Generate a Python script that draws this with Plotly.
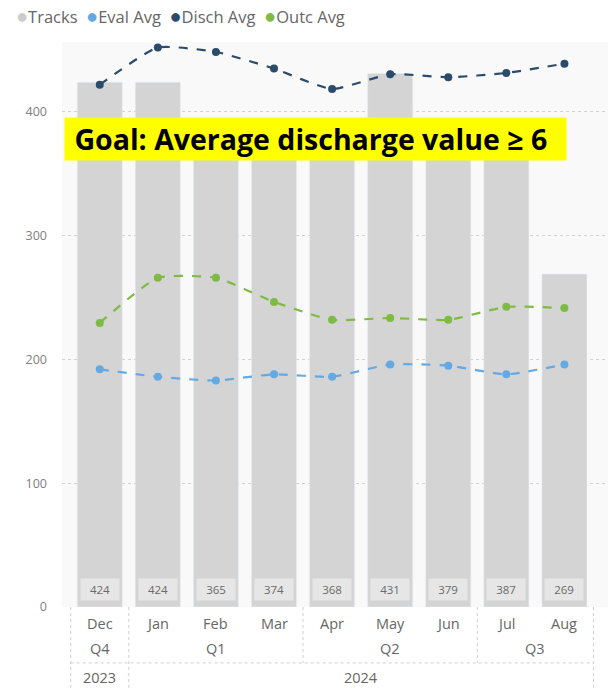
import plotly.graph_objects as go

months = ["Dec", "Jan", "Feb", "Mar", "Apr", "May", "Jun", "Jul", "Aug"]
quarters = [("Q4", 0, 0), ("Q1", 1, 3), ("Q2", 4, 6), ("Q3", 7, 8)]
years = [("2023", 0, 0), ("2024", 1, 8)]
tracks = [424, 424, 365, 374, 368, 431, 379, 387, 269]
eval_avg = [192, 186, 183, 188, 186, 196, 195, 188, 196]
disch_avg = [422, 452, 448.5, 435, 418.5, 430.5, 428, 431.5, 439]
outc_avg = [229.5, 266, 266, 246.5, 232, 233.5, 232, 242.5, 241.5]

FONT = "Open Sans"
xs = list(range(len(months)))

fig = go.Figure()
fig.add_trace(go.Bar(x=xs, y=tracks, name="Tracks", marker_color="#d4d4d4",
                     width=0.775, showlegend=False))
line_specs = [("Eval Avg", eval_avg, "#64a9e3"),
              ("Outc Avg", outc_avg, "#7dbb42"),
              ("Disch Avg", disch_avg, "#2a4b6b")]
for name, vals, col in line_specs:
    fig.add_trace(go.Scatter(x=xs, y=vals, name=name, mode="lines+markers",
                             line=dict(color=col, width=2.2, dash="dash", shape="spline", smoothing=0.5),
                             marker=dict(size=8, color=col), cliponaxis=False, showlegend=False))

ann = []
# data labels
for i, v in enumerate(tracks):
    ann.append(dict(x=i, y=0, yref="y", text=str(v), showarrow=False, yshift=18,
                    font=dict(family=FONT, size=11.5, color="#6a6a6a"),
                    bgcolor="#e6e6e6", borderpad=3, width=32))

# hierarchical x labels
lab_font = dict(family=FONT, size=14.5, color="#666666")
for i, m in enumerate(months):
    ann.append(dict(x=i, y=-0.030, xref="x", yref="paper", text=m, showarrow=False,
                    font=lab_font, yanchor="middle"))
for q, a, b in quarters:
    ann.append(dict(x=(a + b) / 2, y=-0.0726, xref="x", yref="paper", text=q, showarrow=False,
                    font=lab_font, yanchor="middle"))
for yv, a, b in years:
    ann.append(dict(x=(a + b) / 2, y=-0.124, xref="x", yref="paper", text=yv, showarrow=False,
                    font=lab_font, yanchor="middle"))

# legend
legend_items = [("Tracks", "#cccccc"), ("Eval Avg", "#64a9e3"), ("Disch Avg", "#2a4b6b"), ("Outc Avg", "#7dbb42")]
legend_text = "\u00a0\u00a0".join(f"<span style='color:{c};font-size:20px'>●</span>{n}" for n, c in legend_items)
ann.append(dict(x=(14 - 62) / 546, y=(607 - 16) / 565, xref="paper", yref="paper", text=legend_text,
                showarrow=False, xanchor="left", yanchor="middle",
                font=dict(family=FONT, size=16.5, color="#666666")))
# goal box
ann.append(dict(x=(64 - 62) / 546, y=(607 - 117) / 565, xref="paper", yref="paper",
                text="<b>\u00a0Goal: Average discharge value ≥ 6</b>", showarrow=False,
                xanchor="left", yanchor="top", align="left", bgcolor="#ffff00", borderpad=2,
                width=497, font=dict(family=FONT, size=28.5, color="#000000")))

shapes = []
dot = dict(color="#cfcfcf", width=1, dash="dot")
for xv, bottom in [(-0.5, -0.143), (0.5, -0.143), (3.5, -0.099), (6.5, -0.099), (8.5, -0.143)]:
    shapes.append(dict(type="line", x0=xv, x1=xv, xref="x", yref="paper", y0=0, y1=bottom, line=dot))
shapes.append(dict(type="line", x0=-0.5, x1=8.5, xref="x", yref="paper", y0=-0.099, y1=-0.099, line=dot))

fig.update_layout(
    width=608, height=688,
    margin=dict(l=62, r=0, t=42, b=81),
    paper_bgcolor="#ffffff", plot_bgcolor="#f9f9f9",
    bargap=0.2,
    xaxis=dict(range=[-0.65, 8.75], showticklabels=False, showgrid=False, zeroline=False,
               fixedrange=True),
    yaxis=dict(range=[0, 456.5], tickvals=[0, 100, 200, 300, 400], showgrid=True,
               gridcolor="#d2d2d2", griddash="dot", gridwidth=1, zeroline=False,
               tickfont=dict(family=FONT, size=12.5, color="#808080"), ticks="", ticklabelstandoff=14),
    annotations=ann, shapes=shapes, showlegend=False,
)
fig.write_html("out.html")
